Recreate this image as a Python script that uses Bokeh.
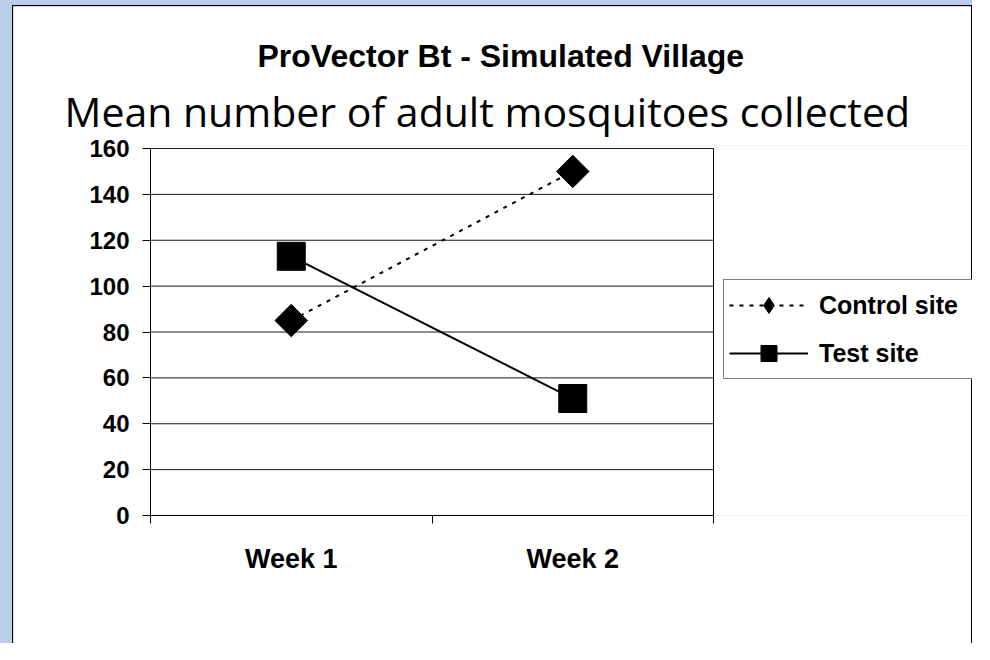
import numpy as np
from bokeh.plotting import figure
from bokeh.models import FixedTicker, Range1d, Title, Legend, LegendItem
from bokeh.layouts import column
from bokeh.embed import file_html
from bokeh.resources import INLINE

title_text = "ProVector Bt - Simulated Village"
subtitle_text = "Mean number of adult mosquitoes collected"
weeks = ["Week 1", "Week 2"]
control_site = [85, 150]
test_site = [113, 51]
y_tick_values = [0, 20, 40, 60, 80, 100, 120, 140, 160]

x_pos = [i + 0.5 for i in range(len(weeks))]
x_bounds = list(range(len(weeks) + 1))

# canvas geometry (pixels)
W, H = 960, 638
PL, PR, PT, PB = 137, 700, 142, 509      # plot-area box of the chart
FR, FT = 959, 139                         # drawing frame extends right (legend)
x_end = len(weeks) * (FR - PL) / (PR - PL)
y_end = y_tick_values[-1] * (PB - FT) / (PB - PT)

p = figure(width=W, height=H, output_backend="svg", toolbar_location=None,
           title=None,
           x_range=Range1d(0, x_end), y_range=Range1d(0, y_end),
           min_border_left=PL, min_border_right=W - FR,
           min_border_top=FT, min_border_bottom=H - PB)
p.background_fill_color = "white"
p.border_fill_color = "white"
p.outline_line_color = None
p.xgrid.visible = False
p.ygrid.visible = False

FONT = "Liberation Sans"

# titles (subtitle nearest the plot, main title above it)
p.add_layout(Title(text=subtitle_text, align="left", offset=-86, standoff=14,
                   text_font="Open Sans", text_font_style="normal",
                   text_font_size="41px", text_color="black"), "above")
p.add_layout(Title(text=title_text, align="left", offset=107, standoff=0,
                   text_font=FONT, text_font_style="bold",
                   text_font_size="32px", text_color="black"), "above")

# x axis
p.xaxis.bounds = (x_bounds[0], x_bounds[-1])
p.xaxis.ticker = FixedTicker(ticks=x_pos, minor_ticks=x_bounds)
p.xaxis.major_label_overrides = {x: w for x, w in zip(x_pos, weeks)}
p.xaxis.major_tick_out = 0
p.xaxis.major_tick_in = 0
p.xaxis.minor_tick_out = 8
p.xaxis.minor_tick_in = 0
p.xaxis.minor_tick_line_color = "black"
p.xaxis.axis_line_color = "black"
p.xaxis.major_label_standoff = 20
p.xaxis.major_label_text_font = FONT
p.xaxis.major_label_text_font_style = "bold"
p.xaxis.major_label_text_font_size = "27px"
p.xaxis.major_label_text_color = "black"

# y axis
p.yaxis.bounds = (y_tick_values[0], y_tick_values[-1])
p.yaxis.ticker = FixedTicker(ticks=y_tick_values)
p.yaxis.minor_tick_line_color = None
p.yaxis.major_tick_out = 8
p.yaxis.major_tick_in = 0
p.yaxis.major_tick_line_color = "black"
p.yaxis.axis_line_color = "black"
p.yaxis.major_label_standoff = 13
p.yaxis.major_label_text_font = FONT
p.yaxis.major_label_text_font_style = "bold"
p.yaxis.major_label_text_font_size = "24px"
p.yaxis.major_label_text_color = "black"

# horizontal gridlines across the plot area, and its right border
p.segment(x0=x_bounds[0], x1=x_bounds[-1], y0=y_tick_values[1:], y1=y_tick_values[1:],
          line_color="#1a1a1a", line_width=1)
p.segment(x0=x_bounds[-1], x1=x_bounds[-1], y0=y_tick_values[0], y1=y_tick_values[-1],
          line_color="black", line_width=1)

# series
r_cl = p.line(x_pos, control_site, line_dash="4 6", line_width=2, line_color="black")
p.scatter(x_pos, control_site, marker="square", angle=np.pi / 4, size=23,
          fill_color="black", line_color="black")
# legend-only diamond (no visible points)
r_cleg = p.scatter(x=[np.nan], y=[np.nan], marker="diamond", size=20,
                   fill_color="black", line_color="black")
r_tl = p.line(x_pos, test_site, line_width=2, line_color="black")
r_ts = p.scatter(x_pos, test_site, marker="square", size=28,
                 fill_color="black", line_color="black")

leg = Legend(items=[LegendItem(label="Control site", renderers=[r_cl, r_cleg]),
                    LegendItem(label="Test site", renderers=[r_tl, r_ts])],
             location=(573, 136), margin=0, padding=5, spacing=8,
             glyph_width=79, glyph_height=40, label_height=30, label_width=150,
             label_standoff=11,
             border_line_color="black", border_line_width=1,
             background_fill_color="white", background_fill_alpha=1,
             label_text_font=FONT, label_text_font_style="bold",
             label_text_font_size="25px", label_text_color="black")
p.add_layout(leg)

p.styles = {"border-top": "1px solid black", "border-left": "1px solid black",
            "border-right": "1px solid black"}

layout = column(p, styles={"background-color": "#bccdea",
                           "padding": "5px 0px 0px 12px"})

open("out.html", "w").write(file_html(layout, INLINE))
